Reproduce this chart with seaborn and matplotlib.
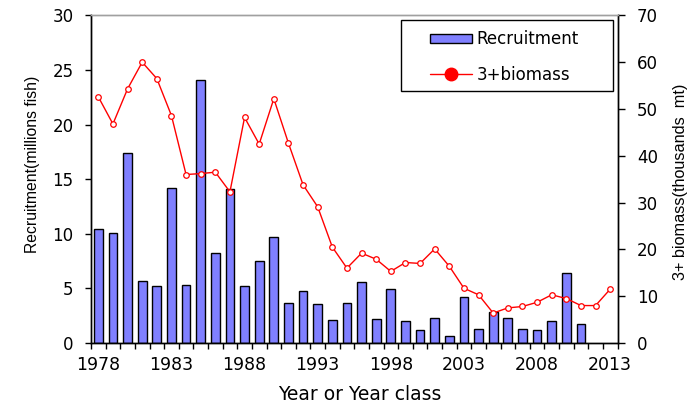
import numpy as np
import pandas as pd
import matplotlib
matplotlib.use("Agg")
import matplotlib.pyplot as plt
import seaborn as sns
from matplotlib.lines import Line2D
from matplotlib.patches import Patch, Rectangle

sns.set_style("white")
plt.rcParams['font.family'] = ['DejaVu Sans']
plt.rcParams['text.color'] = 'black'
plt.rcParams['axes.labelcolor'] = 'black'
plt.rcParams['xtick.color'] = 'black'
plt.rcParams['ytick.color'] = 'black'

rec_years = list(range(1978, 2012))
recruitment = [10.4, 10.1, 17.4, 5.7, 5.2, 14.2, 5.3, 24.1, 8.2, 14.1,
               5.2, 7.5, 9.7, 3.7, 4.8, 3.6, 2.1, 3.7, 5.6, 2.2,
               4.9, 2.0, 1.2, 2.3, 0.6, 4.2, 1.3, 2.8, 2.3, 1.3,
               1.2, 2.0, 6.4, 1.7]

bio_years = list(range(1978, 2014))
biomass = [52.6, 46.8, 54.3, 60.0, 56.5, 48.6, 36.0, 36.2, 36.5, 32.3,
           48.2, 42.5, 52.2, 42.7, 33.8, 29.1, 20.5, 16.0, 19.2, 17.9,
           15.3, 17.2, 17.0, 20.1, 16.4, 11.7, 10.3, 6.4, 7.5, 7.8,
           8.7, 10.3, 9.5, 8.0, 8.0, 11.5]

xtick_labels = ["1978", "1983", "1988", "1993", "1998", "2003", "2008", "2013"]

df_rec = pd.DataFrame({"year": rec_years, "rec": recruitment})
df_bio = pd.DataFrame({"year": bio_years, "bio": biomass})

W, H = 698, 409
fig = plt.figure(figsize=(6.98, 4.09), dpi=100)
ax = fig.add_axes([91/W, 66/H, 526.5/W, (343.3-15.7)/H])

sns.barplot(data=df_rec, x="year", y="rec", native_scale=True, ax=ax,
            color="#8080FF", saturation=1, width=0.6,
            edgecolor="black", linewidth=1.0)

ax2 = ax.twinx()
sns.lineplot(data=df_bio, x="year", y="bio", ax=ax2, color="red",
             linewidth=1.0, marker="o", markersize=4,
             markerfacecolor="white", markeredgecolor="red",
             markeredgewidth=0.9)

ax.set_xlim(1977.5, 2013.5)
ax.set_ylim(0, 30)
ax2.set_ylim(0, 70)

# x ticks: marks at category boundaries, labels under categories
ax.set_xticks(np.arange(1977.5, 2014.5, 1.0))
ax.set_xticklabels([])
ax.set_xticks([int(s) for s in xtick_labels], minor=True)
ax.set_xticklabels(xtick_labels, minor=True)
ax.tick_params(axis="x", which="major", direction="out", length=4.5, width=1, color="black", bottom=True)
ax.tick_params(axis="x", which="minor", length=0, labelsize=12.5, pad=9)

ax.set_yticks(np.arange(0, 31, 5))
ax.tick_params(axis="y", direction="out", length=4.5, width=1, color="black", left=True, labelsize=12, pad=8)
ax2.set_yticks(np.arange(0, 71, 10))
ax2.tick_params(axis="y", direction="out", length=5, width=1, color="black", right=True, labelsize=12, pad=9)

for a in (ax, ax2):
    for s in ("left", "bottom", "right"):
        a.spines[s].set_color("black")
        a.spines[s].set_linewidth(1.0)
    a.spines["top"].set_color("#A0A0A0")
    a.spines["top"].set_linewidth(1.0)

ax.set_xlabel("")
ax.set_ylabel("")
ax2.set_xlabel("")
ax2.set_ylabel("")
fig.text(360/W, 1 - 395/H, "Year or Year class", ha="center", va="center", fontsize=13.5)
fig.text(33/W, 1 - 164/H, "Recruitment(millions fish)", ha="center", va="center",
         rotation=90, fontsize=11.3, family="Liberation Sans")
fig.text(680/W, 1 - 181.5/H, "3+ biomass(thousands  mt)", ha="center", va="center",
         rotation=90, fontsize=11.7, family="Liberation Sans")

# legend frame (drawn in ax2 below the legend)
frame = Rectangle((400.7/W, 1 - 91/H), 212/W, 71/H, transform=fig.transFigure,
                  facecolor="white", edgecolor="black", linewidth=1.0, zorder=4, clip_on=False)
ax2.add_patch(frame)

handles = [Patch(facecolor="#8080FF", edgecolor="black", linewidth=1.0),
           Line2D([0], [0], color="red", linewidth=1.0, marker="o", markersize=9,
                  markerfacecolor="red", markeredgecolor="red")]
leg = ax2.legend(handles, ["Recruitment", "3+biomass"], loc="upper left",
                 bbox_to_anchor=(430/W, 1 - 30.5/H), bbox_transform=fig.transFigure,
                 frameon=False, fontsize=12, handlelength=2.5,
                 handleheight=0.5, handletextpad=0.28, labelspacing=1.02,
                 borderpad=0, borderaxespad=0)
leg.set_zorder(6)

fig.savefig("out.png", dpi=100)
